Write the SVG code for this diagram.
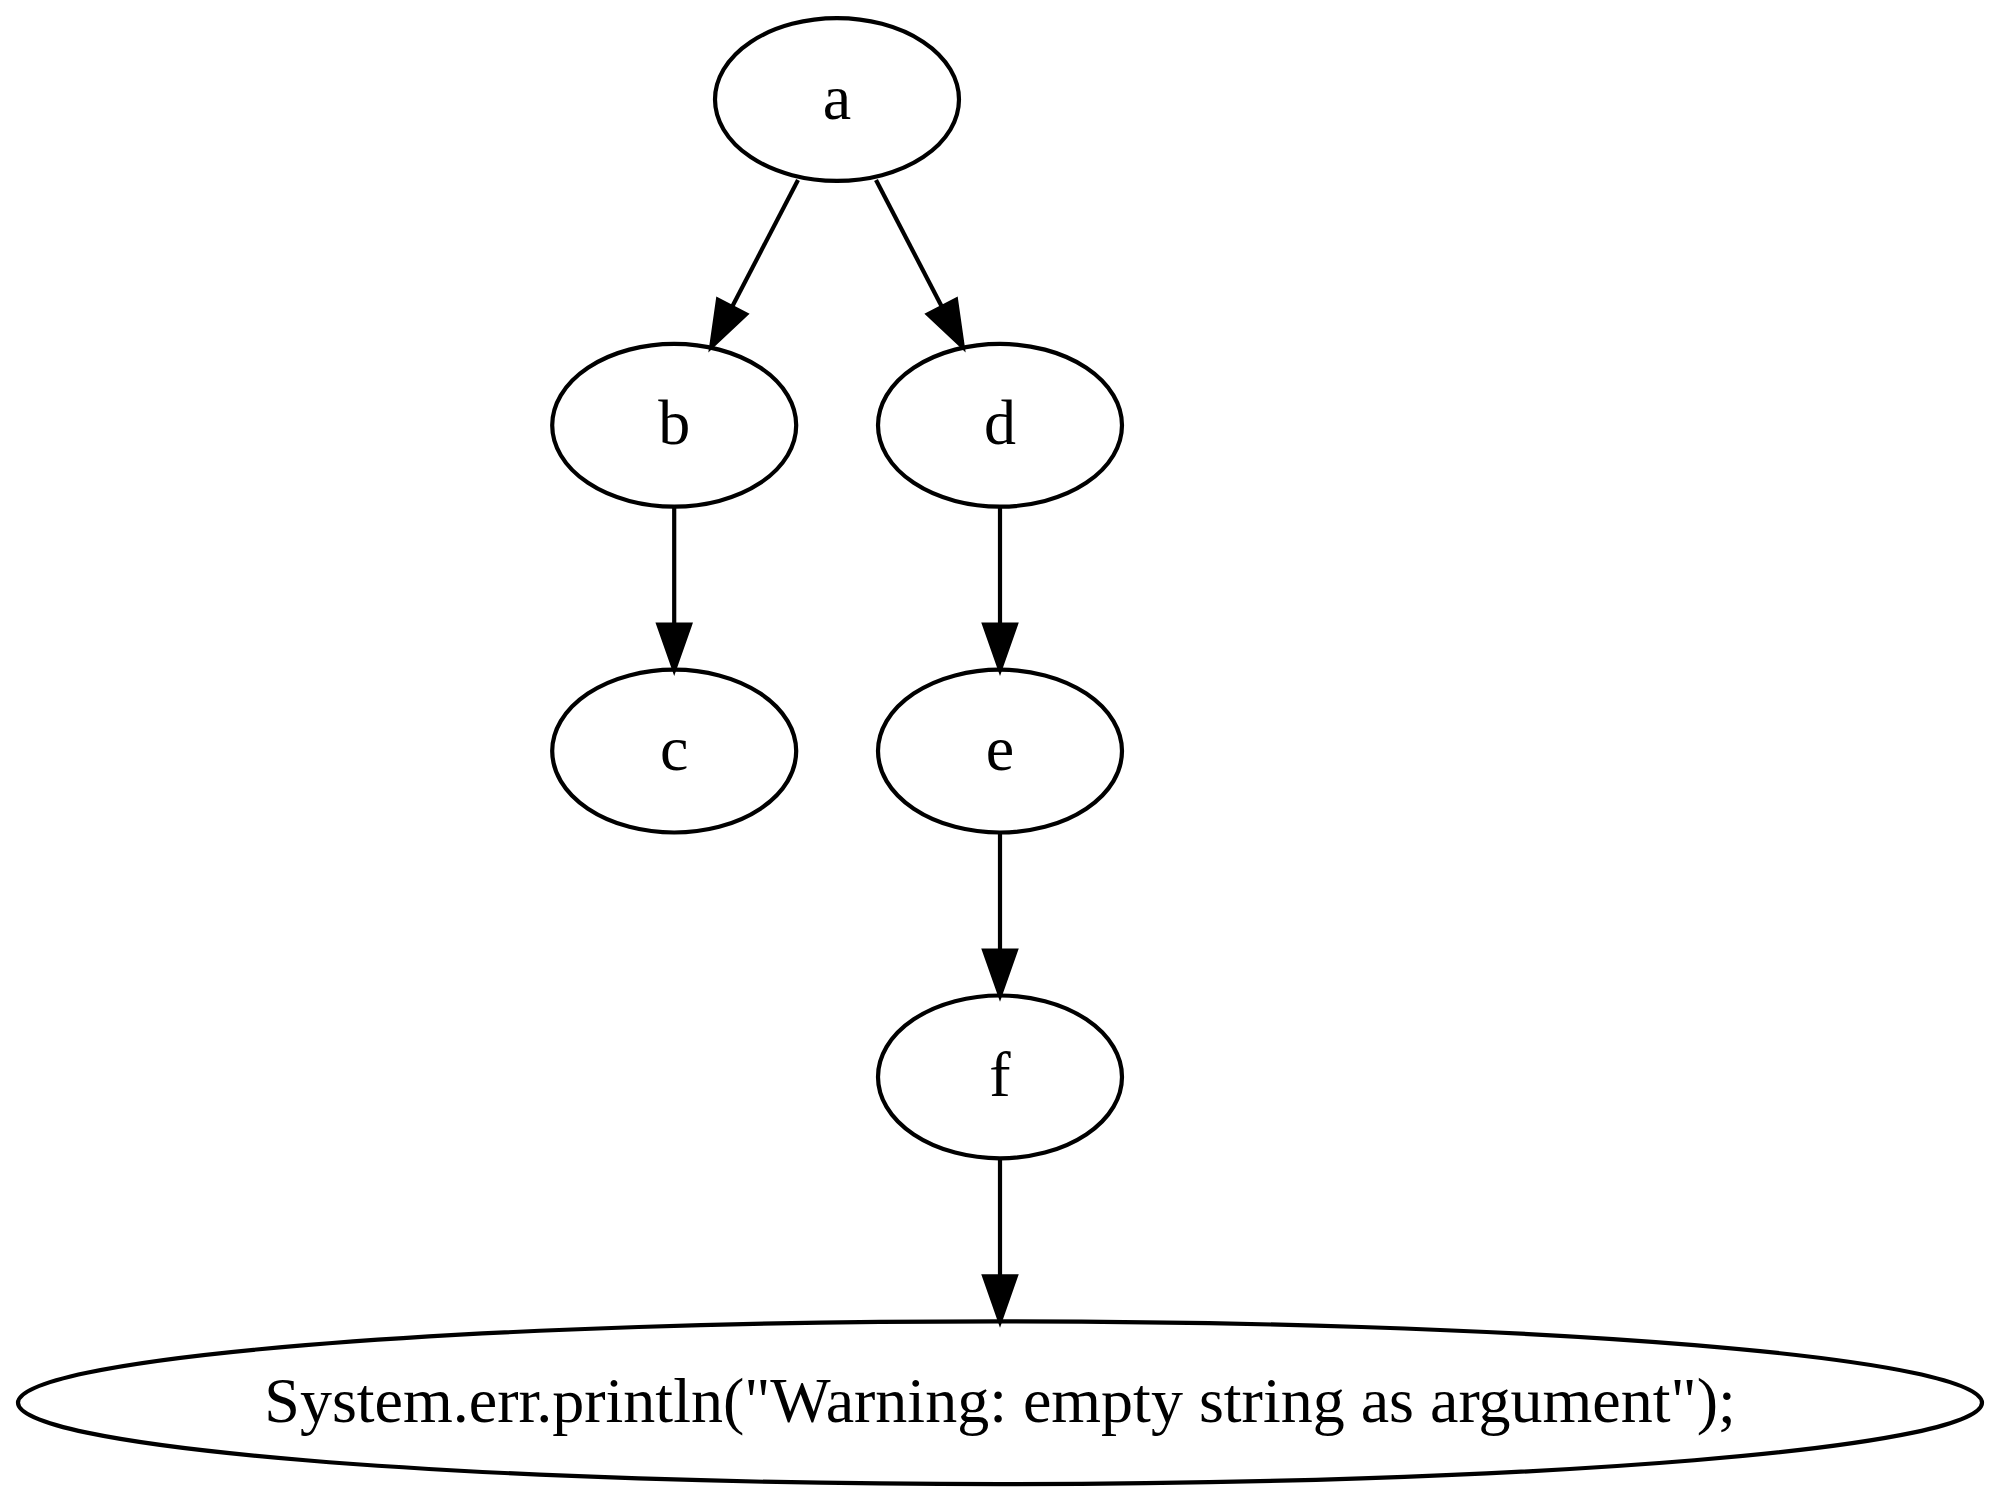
<svg xmlns="http://www.w3.org/2000/svg" width="2000" height="1502" viewBox="0 0 2000 1502">
<style>
.node ellipse{fill:none;stroke:#000;stroke-width:4.2}
.node text{font-family:"Liberation Serif","Times New Roman",serif;font-size:64px;text-anchor:middle;fill:#000}
.edge{fill:none;stroke:#000;stroke-width:4.2}
</style>
<defs>
<marker id="arr" markerUnits="userSpaceOnUse" markerWidth="60" markerHeight="40" refX="0" refY="0" viewBox="-3 -20 54 40" orient="auto" overflow="visible">
<path d="M0,-15.8 L45,0 L0,15.8 Z" fill="#000" stroke="#000" stroke-width="4.2"/>
</marker>
</defs>
<rect width="2000" height="1502" fill="#fff"/>
<g id="edges">
<path class="edge" d="M798,180 L732,307" marker-end="url(#arr)"/>
<path class="edge" d="M876,180 L942,307" marker-end="url(#arr)"/>
<path class="edge" d="M674.2,506.7 L674.2,624.7" marker-end="url(#arr)"/>
<path class="edge" d="M1000,506.7 L1000,624.7" marker-end="url(#arr)"/>
<path class="edge" d="M1000,832.5 L1000,950.5" marker-end="url(#arr)"/>
<path class="edge" d="M1000,1158.3 L1000,1276.3" marker-end="url(#arr)"/>
</g>
<g id="node-a" class="node"><ellipse cx="837" cy="99.5" rx="122" ry="81.4"/><text x="837" y="118.5">a</text></g>
<g id="node-b" class="node"><ellipse cx="674.2" cy="425.3" rx="122" ry="81.4"/><text x="674.2" y="444.3">b</text></g>
<g id="node-d" class="node"><ellipse cx="1000" cy="425.3" rx="122" ry="81.4"/><text x="1000" y="444.3">d</text></g>
<g id="node-c" class="node"><ellipse cx="674.2" cy="751.1" rx="122" ry="81.4"/><text x="674.2" y="770.1">c</text></g>
<g id="node-e" class="node"><ellipse cx="1000" cy="751.1" rx="122" ry="81.4"/><text x="1000" y="770.1">e</text></g>
<g id="node-f" class="node"><ellipse cx="1000" cy="1076.9" rx="122" ry="81.4"/><text x="1000" y="1095.9">f</text></g>
<g id="node-g" class="node"><ellipse cx="1000" cy="1402.7" rx="982" ry="81.4"/><text x="1000" y="1421.7">System.err.println("Warning: empty string as argument");</text></g>
</svg>
